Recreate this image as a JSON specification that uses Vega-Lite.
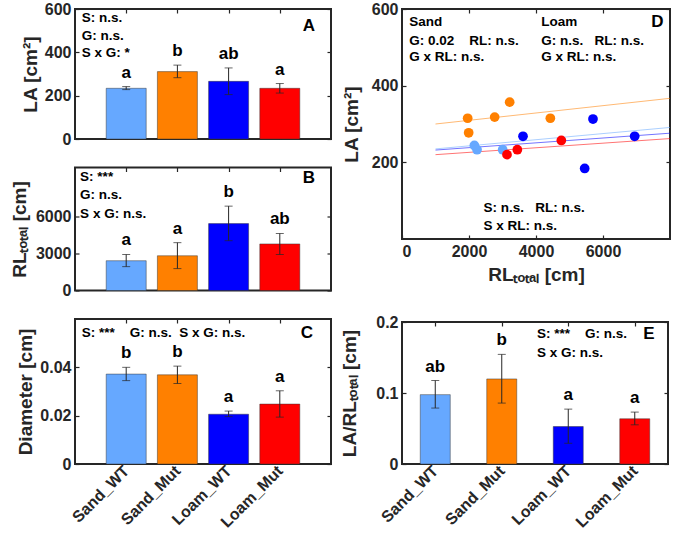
{
  "$schema": "https://vega.github.io/schema/vega-lite/v6.json",
  "padding": {"left": 9, "top": 0, "right": 0, "bottom": 0},
  "background": "white",
  "config": {
    "font": "Liberation Sans",
    "view": {"stroke": "#262626", "strokeWidth": 2},
    "axis": {
      "grid": false,
      "domain": false,
      "labelFont": "Liberation Sans",
      "labelFontSize": 16,
      "labelFontWeight": "bold",
      "labelColor": "#262626",
      "labelOverlap": false,
      "titleFont": "Liberation Sans",
      "titleFontSize": 19,
      "titleFontWeight": "bold",
      "titleColor": "#262626",
      "tickColor": "#262626",
      "tickSize": -4,
      "tickWidth": 1.2,
      "labelPadding": 8
    },
    "text": {"font": "Liberation Sans", "fontWeight": "bold", "color": "#000000"}
  },
  "datasets": {
    "la": [
      {"g": "Sand_WT", "i": 1, "mean": 234, "lo": 228, "hi": 242, "sig": "a"},
      {"g": "Sand_Mut", "i": 2, "mean": 311, "lo": 283, "hi": 341, "sig": "b"},
      {"g": "Loam_WT", "i": 3, "mean": 266, "lo": 205, "hi": 328, "sig": "ab"},
      {"g": "Loam_Mut", "i": 4, "mean": 234, "lo": 212, "hi": 256, "sig": "a"}
    ],
    "rl": [
      {"g": "Sand_WT", "i": 1, "mean": 2422, "lo": 1941, "hi": 2928, "sig": "a"},
      {"g": "Sand_Mut", "i": 2, "mean": 2824, "lo": 1781, "hi": 3890, "sig": "a"},
      {"g": "Loam_WT", "i": 3, "mean": 5438, "lo": 4051, "hi": 6858, "sig": "b"},
      {"g": "Loam_Mut", "i": 4, "mean": 3786, "lo": 2928, "hi": 4636, "sig": "ab"}
    ],
    "dia": [
      {"g": "Sand_WT", "i": 1, "mean": 0.0372, "lo": 0.0345, "hi": 0.0400, "sig": "b"},
      {"g": "Sand_Mut", "i": 2, "mean": 0.0369, "lo": 0.0333, "hi": 0.0405, "sig": "b"},
      {"g": "Loam_WT", "i": 3, "mean": 0.0206, "lo": 0.0196, "hi": 0.0219, "sig": "a"},
      {"g": "Loam_Mut", "i": 4, "mean": 0.0248, "lo": 0.0194, "hi": 0.0303, "sig": "a"}
    ],
    "ratio": [
      {"g": "Sand_WT", "i": 1, "mean": 0.0977, "lo": 0.0788, "hi": 0.1176, "sig": "ab"},
      {"g": "Sand_Mut", "i": 2, "mean": 0.1198, "lo": 0.0858, "hi": 0.1544, "sig": "b"},
      {"g": "Loam_WT", "i": 3, "mean": 0.0528, "lo": 0.0292, "hi": 0.0773, "sig": "a"},
      {"g": "Loam_Mut", "i": 4, "mean": 0.0637, "lo": 0.0552, "hi": 0.0731, "sig": "a"}
    ],
    "pts": [
      {"g": "Sand_WT", "rl": 2160, "la": 244},
      {"g": "Sand_WT", "rl": 2240, "la": 233},
      {"g": "Sand_WT", "rl": 3005, "la": 233},
      {"g": "Sand_Mut", "rl": 1960, "la": 315},
      {"g": "Sand_Mut", "rl": 1990, "la": 277},
      {"g": "Sand_Mut", "rl": 2766, "la": 318},
      {"g": "Sand_Mut", "rl": 3214, "la": 357},
      {"g": "Sand_Mut", "rl": 4428, "la": 315},
      {"g": "Loam_WT", "rl": 3612, "la": 268},
      {"g": "Loam_WT", "rl": 5701, "la": 313},
      {"g": "Loam_WT", "rl": 5453, "la": 184},
      {"g": "Loam_WT", "rl": 6945, "la": 268},
      {"g": "Loam_Mut", "rl": 3134, "la": 220},
      {"g": "Loam_Mut", "rl": 3443, "la": 233},
      {"g": "Loam_Mut", "rl": 4756, "la": 257}
    ],
    "fits": [
      {"g": "Sand_Mut", "rl": 1000, "la": 300},
      {"g": "Sand_Mut", "rl": 8000, "la": 367},
      {"g": "Sand_WT", "rl": 1000, "la": 235},
      {"g": "Sand_WT", "rl": 8000, "la": 291},
      {"g": "Loam_WT", "rl": 1000, "la": 232},
      {"g": "Loam_WT", "rl": 8000, "la": 276},
      {"g": "Loam_Mut", "rl": 1000, "la": 220},
      {"g": "Loam_Mut", "rl": 8000, "la": 262}
    ],
    "notesA": [
      {"x": 0.13, "y": 557, "t": "S: n.s."},
      {"x": 0.13, "y": 477, "t": "G: n.s."},
      {"x": 0.13, "y": 397, "t": "S x G: *"}
    ],
    "notesB": [
      {"x": 0.1, "y": 9210, "t": "S: ***"},
      {"x": 0.1, "y": 7726, "t": "G: n.s."},
      {"x": 0.1, "y": 6250, "t": "S x G: n.s."}
    ],
    "notesC": [
      {"x": 0.13, "y": 0.0543, "t": "S: ***\u00a0\u00a0\u00a0\u00a0G: n.s.\u00a0\u00a0S x G: n.s."}
    ],
    "notesD": [
      {"x": 218, "y": 567, "t": "Sand"},
      {"x": 218, "y": 517, "t": "G: 0.02\u00a0\u00a0\u00a0\u00a0RL: n.s."},
      {"x": 218, "y": 474, "t": "G x RL: n.s."},
      {"x": 4158, "y": 567, "t": "Loam"},
      {"x": 4158, "y": 517, "t": "G: n.s.\u00a0\u00a0\u00a0RL: n.s."},
      {"x": 4158, "y": 474, "t": "G x RL: n.s."},
      {"x": 2436, "y": 80, "t": "S: n.s.\u00a0\u00a0\u00a0RL: n.s."},
      {"x": 2436, "y": 35, "t": "S x RL: n.s."}
    ],
    "notesE": [
      {"x": 2.53, "y": 0.1827, "t": "S: ***\u00a0\u00a0\u00a0\u00a0G: n.s."},
      {"x": 2.53, "y": 0.1567, "t": "S x G: n.s."}
    ]
  },
  "hconcat": [
    {
      "vconcat": [
        {
          "width": 256, "height": 130,
          "data": {"name": "la"},
          "resolve": {"axis": {"x": "independent", "y": "independent"}},
          "layer": [
            {"mark": {"type": "bar", "width": 40, "stroke": "#333333", "strokeWidth": 0.8, "strokeOpacity": 0.6},
             "encoding": {
               "x": {"field": "i", "type": "quantitative", "scale": {"domain": [0, 5], "padding": 0}, "axis": {"values": [1, 2, 3, 4], "labels": false, "title": null}},
               "y": {"field": "mean", "type": "quantitative", "scale": {"domain": [0, 600]}, "axis": {"values": [0, 200, 400, 600], "format": "d", "title": "LA [cm²]", "titlePadding": 4}},
               "color": {"field": "g", "type": "nominal", "scale": {"domain": ["Sand_WT", "Sand_Mut", "Loam_WT", "Loam_Mut"], "range": ["#66a8ff", "#ff8000", "#0000ff", "#ff0000"]}, "legend": null}
             }},
            {"mark": {"type": "rule", "strokeWidth": 1, "color": "#262626"},
             "encoding": {
               "x": {"field": "i", "type": "quantitative", "axis": {"orient": "top", "values": [1, 2, 3, 4], "labels": false, "title": null}},
               "y": {"field": "lo", "type": "quantitative", "axis": {"orient": "right", "values": [0, 200, 400, 600], "labels": false, "title": null}},
               "y2": {"field": "hi"}}},
            {"mark": {"type": "tick", "orient": "horizontal", "size": 8, "thickness": 1, "color": "#262626"},
             "encoding": {"x": {"field": "i", "type": "quantitative", "axis": null}, "y": {"field": "lo", "type": "quantitative", "axis": null}}},
            {"mark": {"type": "tick", "orient": "horizontal", "size": 8, "thickness": 1, "color": "#262626"},
             "encoding": {"x": {"field": "i", "type": "quantitative", "axis": null}, "y": {"field": "hi", "type": "quantitative", "axis": null}}},
            {"mark": {"type": "text", "fontSize": 17, "baseline": "alphabetic", "dy": -9},
             "encoding": {"x": {"field": "i", "type": "quantitative", "axis": null}, "y": {"field": "hi", "type": "quantitative", "axis": null}, "text": {"field": "sig"}}},
            {"data": {"name": "notesA"}, "mark": {"type": "text", "fontSize": 13.5, "align": "left", "baseline": "middle"},
             "encoding": {"x": {"field": "x", "type": "quantitative", "axis": null}, "y": {"field": "y", "type": "quantitative", "axis": null}, "text": {"field": "t"}}},
            {"data": {"values": [{"x": 4.69, "y": 520, "t": "A"}]}, "mark": {"type": "text", "fontSize": 17, "align": "right", "baseline": "middle"},
             "encoding": {"x": {"field": "x", "type": "quantitative", "axis": null}, "y": {"field": "y", "type": "quantitative", "axis": null}, "text": {"field": "t"}}}
          ]
        },
        {
          "width": 256, "height": 123,
          "data": {"name": "rl"},
          "resolve": {"axis": {"x": "independent", "y": "independent"}},
          "layer": [
            {"mark": {"type": "bar", "width": 40, "stroke": "#333333", "strokeWidth": 0.8, "strokeOpacity": 0.6},
             "encoding": {
               "x": {"field": "i", "type": "quantitative", "scale": {"domain": [0, 5], "padding": 0}, "axis": {"values": [1, 2, 3, 4], "labels": false, "title": null}},
               "y": {"field": "mean", "type": "quantitative", "scale": {"domain": [0, 10000]}, "axis": {"values": [0, 3000, 6000], "format": "d", "title": "RLₜₒₜₐₗ [cm]", "titlePadding": 6}},
               "color": {"field": "g", "type": "nominal", "scale": {"domain": ["Sand_WT", "Sand_Mut", "Loam_WT", "Loam_Mut"], "range": ["#66a8ff", "#ff8000", "#0000ff", "#ff0000"]}, "legend": null}
             }},
            {"mark": {"type": "rule", "strokeWidth": 1, "color": "#262626"},
             "encoding": {
               "x": {"field": "i", "type": "quantitative", "axis": {"orient": "top", "values": [1, 2, 3, 4], "labels": false, "title": null}},
               "y": {"field": "lo", "type": "quantitative", "axis": {"orient": "right", "values": [0, 3000, 6000], "labels": false, "title": null}},
               "y2": {"field": "hi"}}},
            {"mark": {"type": "tick", "orient": "horizontal", "size": 8, "thickness": 1, "color": "#262626"},
             "encoding": {"x": {"field": "i", "type": "quantitative", "axis": null}, "y": {"field": "lo", "type": "quantitative", "axis": null}}},
            {"mark": {"type": "tick", "orient": "horizontal", "size": 8, "thickness": 1, "color": "#262626"},
             "encoding": {"x": {"field": "i", "type": "quantitative", "axis": null}, "y": {"field": "hi", "type": "quantitative", "axis": null}}},
            {"mark": {"type": "text", "fontSize": 17, "baseline": "alphabetic", "dy": -9},
             "encoding": {"x": {"field": "i", "type": "quantitative", "axis": null}, "y": {"field": "hi", "type": "quantitative", "axis": null}, "text": {"field": "sig"}}},
            {"data": {"name": "notesB"}, "mark": {"type": "text", "fontSize": 13.5, "align": "left", "baseline": "middle"},
             "encoding": {"x": {"field": "x", "type": "quantitative", "axis": null}, "y": {"field": "y", "type": "quantitative", "axis": null}, "text": {"field": "t"}}},
            {"data": {"values": [{"x": 4.69, "y": 9153, "t": "B"}]}, "mark": {"type": "text", "fontSize": 17, "align": "right", "baseline": "middle"},
             "encoding": {"x": {"field": "x", "type": "quantitative", "axis": null}, "y": {"field": "y", "type": "quantitative", "axis": null}, "text": {"field": "t"}}}
          ]
        },
        {
          "width": 256, "height": 145,
          "data": {"name": "dia"},
          "resolve": {"axis": {"x": "independent", "y": "independent"}},
          "layer": [
            {"mark": {"type": "bar", "width": 40, "stroke": "#333333", "strokeWidth": 0.8, "strokeOpacity": 0.6},
             "encoding": {
               "x": {"field": "i", "type": "quantitative", "scale": {"domain": [0, 5], "padding": 0}, "axis": {"values": [1, 2, 3, 4], "labelExpr": "['', 'Sand_WT', 'Sand_Mut', 'Loam_WT', 'Loam_Mut'][datum.value]", "labelAngle": -45, "labelAlign": "right", "labelBaseline": "middle", "title": null}},
               "y": {"field": "mean", "type": "quantitative", "scale": {"domain": [0, 0.06]}, "axis": {"values": [0, 0.02, 0.04], "format": "~g", "title": "Diameter [cm]", "titlePadding": 4}},
               "color": {"field": "g", "type": "nominal", "scale": {"domain": ["Sand_WT", "Sand_Mut", "Loam_WT", "Loam_Mut"], "range": ["#66a8ff", "#ff8000", "#0000ff", "#ff0000"]}, "legend": null}
             }},
            {"mark": {"type": "rule", "strokeWidth": 1, "color": "#262626"},
             "encoding": {
               "x": {"field": "i", "type": "quantitative", "axis": {"orient": "top", "values": [1, 2, 3, 4], "labels": false, "title": null}},
               "y": {"field": "lo", "type": "quantitative", "axis": {"orient": "right", "values": [0, 0.02, 0.04], "labels": false, "title": null}},
               "y2": {"field": "hi"}}},
            {"mark": {"type": "tick", "orient": "horizontal", "size": 8, "thickness": 1, "color": "#262626"},
             "encoding": {"x": {"field": "i", "type": "quantitative", "axis": null}, "y": {"field": "lo", "type": "quantitative", "axis": null}}},
            {"mark": {"type": "tick", "orient": "horizontal", "size": 8, "thickness": 1, "color": "#262626"},
             "encoding": {"x": {"field": "i", "type": "quantitative", "axis": null}, "y": {"field": "hi", "type": "quantitative", "axis": null}}},
            {"mark": {"type": "text", "fontSize": 17, "baseline": "alphabetic", "dy": -9},
             "encoding": {"x": {"field": "i", "type": "quantitative", "axis": null}, "y": {"field": "hi", "type": "quantitative", "axis": null}, "text": {"field": "sig"}}},
            {"data": {"name": "notesC"}, "mark": {"type": "text", "fontSize": 13.5, "align": "left", "baseline": "middle"},
             "encoding": {"x": {"field": "x", "type": "quantitative", "axis": null}, "y": {"field": "y", "type": "quantitative", "axis": null}, "text": {"field": "t"}}},
            {"data": {"values": [{"x": 4.65, "y": 0.0543, "t": "C"}]}, "mark": {"type": "text", "fontSize": 17, "align": "right", "baseline": "middle"},
             "encoding": {"x": {"field": "x", "type": "quantitative", "axis": null}, "y": {"field": "y", "type": "quantitative", "axis": null}, "text": {"field": "t"}}}
          ]
        }
      ],
      "spacing": 28.5,
      "bounds": "flush"
    },
    {
      "vconcat": [
        {
          "width": 268, "height": 230,
          "resolve": {"axis": {"x": "independent", "y": "independent"}},
          "layer": [
            {"data": {"name": "fits"}, "mark": {"type": "line", "strokeWidth": 1, "opacity": 0.55},
             "encoding": {
               "x": {"field": "rl", "type": "quantitative", "scale": {"domain": [0, 8000]}, "axis": {"values": [0, 2000, 4000, 6000], "format": "d", "title": "RLₜₒₜₐₗ  [cm]", "titlePadding": 6}},
               "y": {"field": "la", "type": "quantitative", "scale": {"domain": [0, 600]}, "axis": {"values": [200, 400, 600], "format": "d", "title": "LA [cm²]", "titlePadding": 10}},
               "color": {"field": "g", "type": "nominal", "scale": {"domain": ["Sand_WT", "Sand_Mut", "Loam_WT", "Loam_Mut"], "range": ["#66a8ff", "#ff8000", "#0000ff", "#ff0000"]}, "legend": null},
               "detail": {"field": "g"}
             }},
            {"data": {"name": "pts"}, "mark": {"type": "circle", "size": 95, "opacity": 1},
             "encoding": {
               "x": {"field": "rl", "type": "quantitative", "axis": {"orient": "top", "values": [2000, 4000, 6000], "labels": false, "title": null}},
               "y": {"field": "la", "type": "quantitative", "axis": {"orient": "right", "values": [200, 400, 600], "labels": false, "title": null}},
               "color": {"field": "g", "type": "nominal", "legend": null}
             }},
            {"data": {"name": "notesD"}, "mark": {"type": "text", "fontSize": 13.5, "align": "left", "baseline": "middle"},
             "encoding": {"x": {"field": "x", "type": "quantitative", "axis": null}, "y": {"field": "y", "type": "quantitative", "axis": null}, "text": {"field": "t"}}},
            {"data": {"values": [{"x": 7809, "y": 565, "t": "D"}]}, "mark": {"type": "text", "fontSize": 17, "align": "right", "baseline": "middle"},
             "encoding": {"x": {"field": "x", "type": "quantitative", "axis": null}, "y": {"field": "y", "type": "quantitative", "axis": null}, "text": {"field": "t"}}}
          ]
        },
        {
          "width": 266, "height": 142,
          "data": {"name": "ratio"},
          "resolve": {"axis": {"x": "independent", "y": "independent"}},
          "layer": [
            {"mark": {"type": "bar", "width": 30, "stroke": "#333333", "strokeWidth": 0.8, "strokeOpacity": 0.6},
             "encoding": {
               "x": {"field": "i", "type": "quantitative", "scale": {"domain": [0.55, 4.38], "padding": 0}, "axis": {"values": [1, 2, 3, 4], "labelExpr": "['', 'Sand_WT', 'Sand_Mut', 'Loam_WT', 'Loam_Mut'][datum.value]", "labelAngle": -45, "labelAlign": "right", "labelBaseline": "middle", "title": null}},
               "y": {"field": "mean", "type": "quantitative", "scale": {"domain": [0, 0.2]}, "axis": {"values": [0, 0.1, 0.2], "format": "~g", "title": "LA/RLₜₒₜₐₗ [cm]", "titlePadding": 16}},
               "color": {"field": "g", "type": "nominal", "scale": {"domain": ["Sand_WT", "Sand_Mut", "Loam_WT", "Loam_Mut"], "range": ["#66a8ff", "#ff8000", "#0000ff", "#ff0000"]}, "legend": null}
             }},
            {"mark": {"type": "rule", "strokeWidth": 1, "color": "#262626"},
             "encoding": {
               "x": {"field": "i", "type": "quantitative", "axis": {"orient": "top", "values": [1, 2, 3, 4], "labels": false, "title": null}},
               "y": {"field": "lo", "type": "quantitative", "axis": {"orient": "right", "values": [0, 0.1, 0.2], "labels": false, "title": null}},
               "y2": {"field": "hi"}}},
            {"mark": {"type": "tick", "orient": "horizontal", "size": 8, "thickness": 1, "color": "#262626"},
             "encoding": {"x": {"field": "i", "type": "quantitative", "axis": null}, "y": {"field": "lo", "type": "quantitative", "axis": null}}},
            {"mark": {"type": "tick", "orient": "horizontal", "size": 8, "thickness": 1, "color": "#262626"},
             "encoding": {"x": {"field": "i", "type": "quantitative", "axis": null}, "y": {"field": "hi", "type": "quantitative", "axis": null}}},
            {"mark": {"type": "text", "fontSize": 17, "baseline": "alphabetic", "dy": -9},
             "encoding": {"x": {"field": "i", "type": "quantitative", "axis": null}, "y": {"field": "hi", "type": "quantitative", "axis": null}, "text": {"field": "sig"}}},
            {"data": {"name": "notesE"}, "mark": {"type": "text", "fontSize": 13.5, "align": "left", "baseline": "middle"},
             "encoding": {"x": {"field": "x", "type": "quantitative", "axis": null}, "y": {"field": "y", "type": "quantitative", "axis": null}, "text": {"field": "t"}}},
            {"data": {"values": [{"x": 4.3, "y": 0.1827, "t": "E"}]}, "mark": {"type": "text", "fontSize": 17, "align": "right", "baseline": "middle"},
             "encoding": {"x": {"field": "x", "type": "quantitative", "axis": null}, "y": {"field": "y", "type": "quantitative", "axis": null}, "text": {"field": "t"}}}
          ]
        }
      ],
      "spacing": 83,
      "bounds": "flush"
    }
  ],
  "spacing": 6
}
